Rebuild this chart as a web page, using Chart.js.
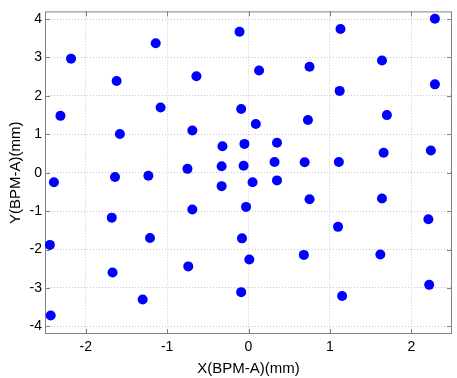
<!DOCTYPE html>
<html>
<head>
<meta charset="utf-8">
<script src="https://cdn.jsdelivr.net/npm/chart.js@4/dist/chart.umd.min.js"></script>
<style>
  html, body { margin: 0; padding: 0; background: #fff; }
  canvas { display: block; }
</style>
</head>
<body>
<canvas id="bpmChart" width="457" height="378"></canvas>
<script>
// measured positions (mm)
const xVals = [2.29, 1.13, -0.11, -1.14, -2.18, 1.64, 0.75, 0.13, -0.64, -1.62,
  2.29, 1.12, -1.08, -0.09, 1.70, -2.31, 0.73, 0.09, -0.69, -1.58,
  -0.32, -0.05, 0.35, 1.66, 2.24, -0.75, -0.33, -0.06, 0.32, 0.69,
  1.11, -2.39, -1.64, -1.23, -0.33, 0.05, 0.35, -0.69, -0.03, 0.75,
  1.64, -1.68, 2.21, 1.10, -1.21, -0.08, -2.44, 0.68, 1.62, 0.01,
  -0.74, -1.67, 2.22, -0.09, -1.30, 1.15, -2.43];
const yVals = [4.01, 3.74, 3.67, 3.37, 2.97, 2.92, 2.76, 2.66, 2.51, 2.39,
  2.30, 2.13, 1.70, 1.66, 1.50, 1.48, 1.37, 1.27, 1.10, 1.01,
  0.69, 0.75, 0.78, 0.52, 0.58, 0.10, 0.17, 0.18, 0.28, 0.27,
  0.28, -0.25, -0.11, -0.08, -0.35, -0.25, -0.20, -0.96, -0.89, -0.69,
  -0.67, -1.17, -1.21, -1.41, -1.70, -1.71, -1.88, -2.14, -2.13, -2.26,
  -2.44, -2.60, -2.92, -3.11, -3.30, -3.21, -3.72];
const xTicks = [-2, -1, 0, 1, 2];
const yTicks = [-4, -3, -2, -1, 0, 1, 2, 3, 4];

const axisColor = '#808080';
const gridColor = '#c8c8c8';
const textColor = '#000000';

// MATLAB-like box with inward ticks
const boxPlugin = {
  id: 'boxPlugin',
  beforeDatasetsDraw(chart) {
    const c = chart.ctx;
    const a = chart.chartArea;
    const sx = chart.scales.x, sy = chart.scales.y;
    const len = 5;
    c.save();
    c.strokeStyle = axisColor;
    c.lineWidth = 1;
    c.strokeRect(a.left + 0.5, a.top + 0.5, a.right - a.left - 1, a.bottom - a.top - 1);
    c.beginPath();
    xTicks.forEach(function(v) {
      const px = Math.round(sx.getPixelForValue(v)) + 0.5;
      c.moveTo(px, a.bottom); c.lineTo(px, a.bottom - len);
      c.moveTo(px, a.top); c.lineTo(px, a.top + len);
    });
    yTicks.forEach(function(v) {
      const py = Math.round(sy.getPixelForValue(v)) + 0.5;
      c.moveTo(a.left, py); c.lineTo(a.left + len, py);
      c.moveTo(a.right, py); c.lineTo(a.right - len, py);
    });
    c.stroke();
    c.restore();
  }
};

const points = xVals.map(function(x, i) { return { x: x, y: yVals[i] }; });

new Chart(document.getElementById('bpmChart').getContext('2d'), {
  type: 'scatter',
  data: {
    datasets: [{
      data: points,
      pointRadius: 5,
      pointBackgroundColor: '#0000ff',
      pointBorderWidth: 0
    }]
  },
  options: {
    responsive: false,
    animation: false,
    layout: { padding: { top: 9, right: 1, left: 0, bottom: 0 } },
    plugins: { legend: { display: false }, tooltip: { enabled: false } },
    scales: {
      x: {
        type: 'linear',
        min: -2.5,
        max: 2.5,
        afterBuildTicks: function(scale) { scale.ticks = xTicks.map(function(v) { return { value: v }; }); },
        afterFit: function(scale) { scale.height = 44; },
        grid: { color: gridColor, drawTicks: false, borderDash: [1, 2] },
        border: { display: false, dash: [1, 2] },
        ticks: { color: textColor, padding: 5, maxRotation: 0, font: { family: 'Liberation Sans, Arial', size: 14 } },
        title: {
          display: true,
          text: 'X(BPM-A)(mm)',
          color: textColor,
          padding: { top: 4, bottom: 0 },
          font: { family: 'Liberation Sans, Arial', size: 15 }
        }
      },
      y: {
        type: 'linear',
        min: -4.2,
        max: 4.2,
        afterBuildTicks: function(scale) { scale.ticks = yTicks.map(function(v) { return { value: v }; }); },
        afterFit: function(scale) { scale.width = 45; },
        grid: { color: gridColor, drawTicks: false },
        border: { display: false, dash: [1, 2] },
        ticks: { color: textColor, padding: 3, font: { family: 'Liberation Sans, Arial', size: 14 } },
        title: {
          display: true,
          text: 'Y(BPM-A)(mm)',
          color: textColor,
          padding: { top: 7, bottom: 0 },
          font: { family: 'Liberation Sans, Arial', size: 15 }
        }
      }
    }
  },
  plugins: [boxPlugin]
});
</script>
</body>
</html>
